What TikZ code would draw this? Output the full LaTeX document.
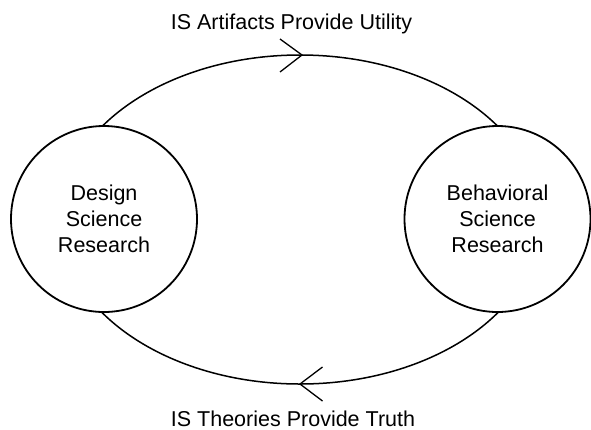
\documentclass[tikz,border=0pt]{standalone}
\usepackage{fontspec}
\setmainfont{Liberation Sans}
\begin{document}
\begin{tikzpicture}[x=1pt,y=-1pt,
  research/.style={circle, draw=black, line width=1.8pt, fill=white, minimum size=186pt, inner sep=0pt, align=center, font=\fontsize{21.5}{25.8}\selectfont},
  label text/.style={anchor=base, inner sep=0pt, font=\fontsize{21.5}{25.8}\selectfont},
  cycle line/.style={line width=1.5pt, black},
  chevron/.style={line width=1.3pt, black, line join=miter}]
\useasboundingbox (0,0) rectangle (591,429);
\draw[cycle line] (300,219.5) ellipse [x radius=240, y radius=164.5];
\node[research] (dsr) at (104,219) {Design\\Science\\Research};
\node[research] (bsr) at (497.5,219) {Behavioral\\Science\\Research};
\coordinate (toptip) at (302,55);
\coordinate (bottip) at (300,384);
\draw[chevron] (280,39) -- (toptip) -- (280,72);
\draw[chevron] (322.5,367) -- (bottip) -- (322.5,401);
\node[label text] (util) at (291.5,29.3) {IS Artifacts Provide Utility};
\node[label text] (truth) at (293,426) {IS Theories Provide Truth};
\end{tikzpicture}
\end{document}
